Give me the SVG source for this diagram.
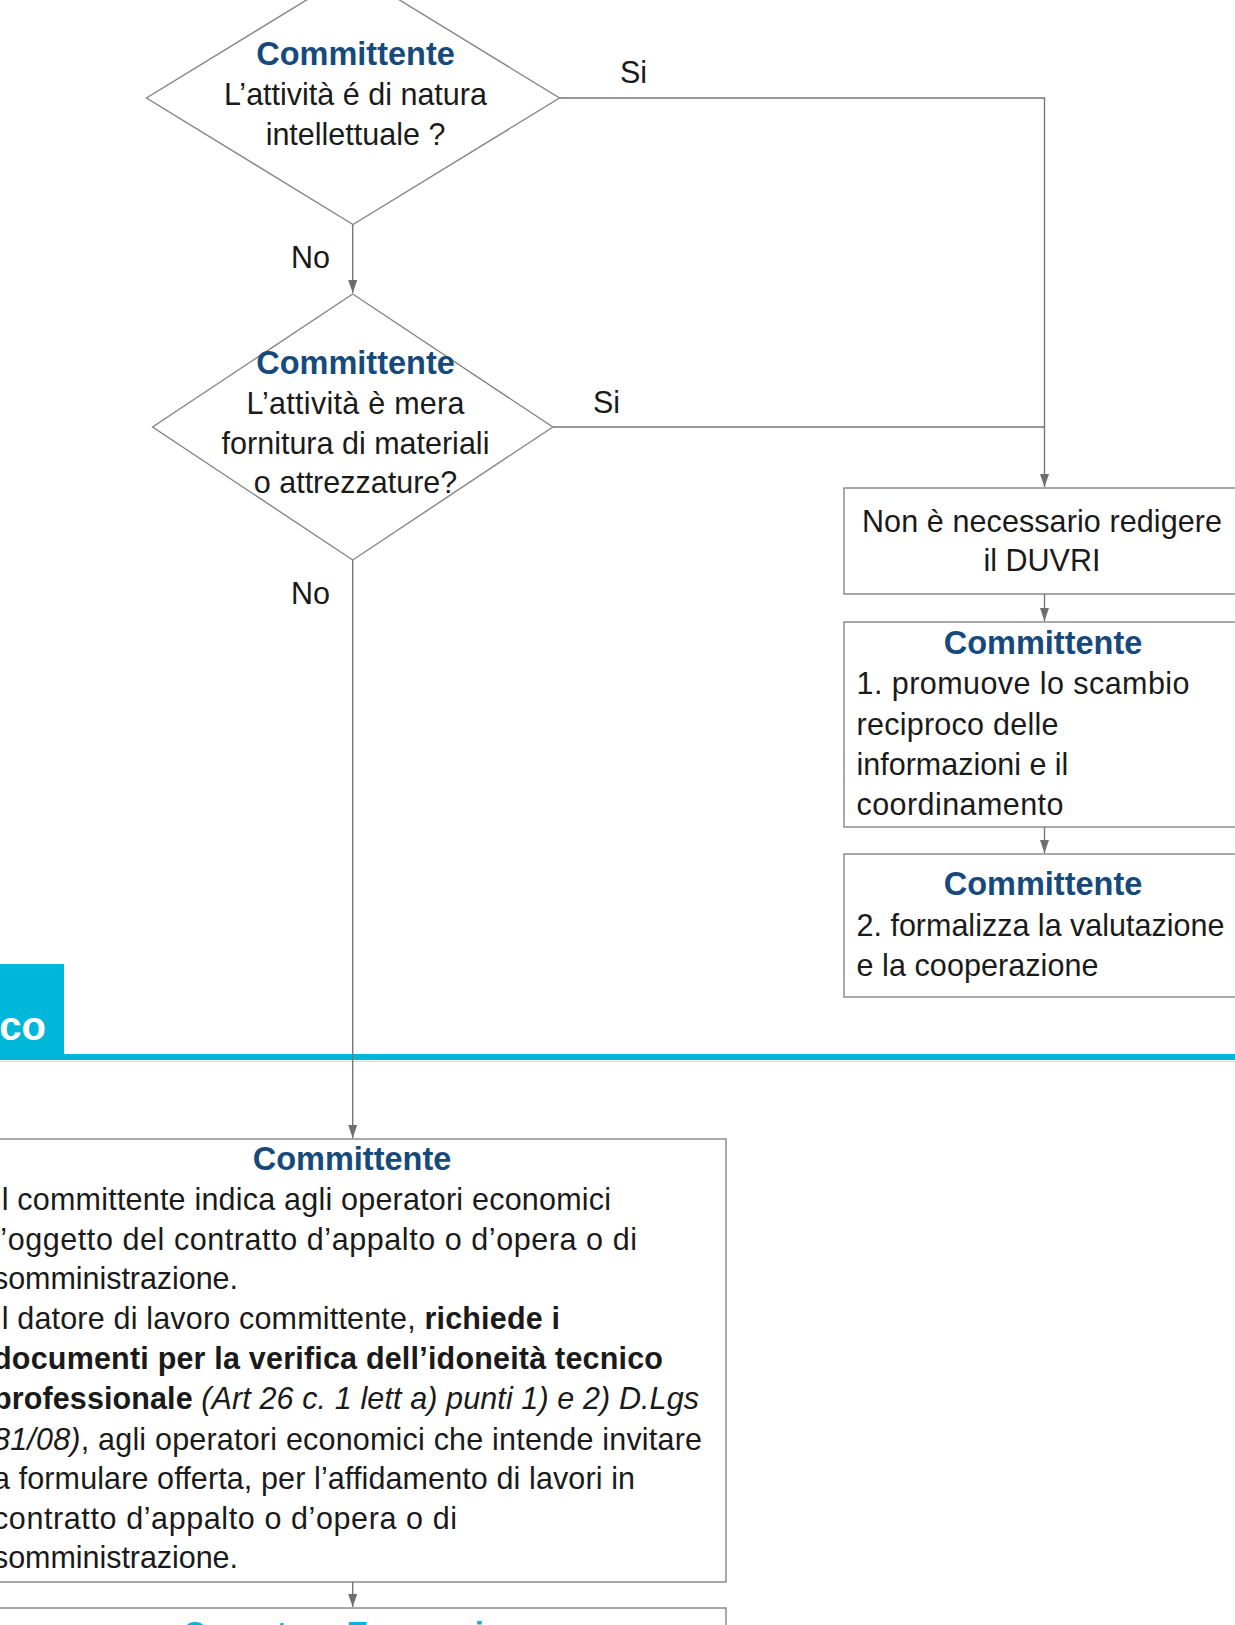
<svg xmlns="http://www.w3.org/2000/svg" width="1235" height="1625" viewBox="0 0 1235 1625">
<defs>
<style>
.t{font-family:"Liberation Sans",Arial,sans-serif;font-size:30.5px;fill:#1a1a1a}
.h{font-family:"Liberation Sans",Arial,sans-serif;font-size:32.5px;font-weight:bold;fill:#174a7c}
.b{font-weight:bold}
.i{font-style:italic}
.shape{fill:#fff;stroke:#858585;stroke-width:1.4}
.con{fill:none;stroke:#777;stroke-width:1.4}
.cy{fill:#00b7da}
</style>
<marker id="arr" viewBox="0 0 13 9" refX="13" refY="4.5" markerWidth="13" markerHeight="9" markerUnits="userSpaceOnUse" orient="auto">
<path d="M0,0 L13,4.5 L0,9 z" fill="#6e6e6e"/>
</marker>
</defs>
<rect width="1235" height="1625" fill="#fff"/>

<g id="band">
<rect class="cy" x="0" y="964" width="64" height="96"/>
<rect class="cy" x="0" y="1054" width="1235" height="6"/>
<line x1="0" y1="1061.5" x2="1235" y2="1061.5" stroke="#dcdcdc" stroke-width="1"/>
<text x="46" y="1040" text-anchor="end" style="font-family:'Liberation Sans',Arial,sans-serif;font-size:40px;font-weight:bold;fill:#fff">co</text>
</g>

<g id="d1">
<polygon class="shape" points="353,-28.5 559.5,98 353,224.5 146.5,98"/>
<text class="h" x="355.5" y="64.5" text-anchor="middle">Committente</text>
<text class="t" x="355.5" y="104.5" text-anchor="middle">L’attività é di natura</text>
<text class="t" x="355.5" y="144.5" text-anchor="middle">intellettuale ?</text>
</g>

<g id="d2">
<polygon class="shape" points="352.7,294 552.8,427 352.7,560 152.6,427"/>
<text class="h" x="355.5" y="373.5" text-anchor="middle">Committente</text>
<text class="t" x="355.5" y="413.5" text-anchor="middle" textLength="218">L’attività è mera</text>
<text class="t" x="355.5" y="453.5" text-anchor="middle">fornitura di materiali</text>
<text class="t" x="355.5" y="493" text-anchor="middle">o attrezzature?</text>
</g>

<g id="b1">
<rect class="shape" x="844" y="488" width="400" height="106"/>
<text class="t" x="1042" y="532" text-anchor="middle" textLength="360">Non è necessario redigere</text>
<text class="t" x="1042" y="571" text-anchor="middle">il DUVRI</text>
</g>

<g id="b2">
<rect class="shape" x="844" y="622" width="400" height="205"/>
<text class="h" x="1043" y="654" text-anchor="middle">Committente</text>
<text class="t" x="856.5" y="694" textLength="333">1. promuove lo scambio</text>
<text class="t" x="856.5" y="734.5" textLength="202">reciproco delle</text>
<text class="t" x="856.5" y="774.5">informazioni e il</text>
<text class="t" x="856.5" y="814.5" textLength="207">coordinamento</text>
</g>

<g id="b3">
<rect class="shape" x="844" y="854" width="400" height="143"/>
<text class="h" x="1043" y="895" text-anchor="middle">Committente</text>
<text class="t" x="856.5" y="935.5">2. formalizza la valutazione</text>
<text class="t" x="856.5" y="975.5" textLength="242">e la cooperazione</text>
</g>

<g id="b4">
<rect class="shape" x="-20" y="1139" width="746" height="443"/>
<text class="h" x="352" y="1170" text-anchor="middle">Committente</text>
<text class="t" x="-7" y="1210" textLength="618">Il committente indica agli operatori economici</text>
<text class="t" x="-7" y="1249.5" textLength="644">l’oggetto del contratto d’appalto o d’opera o di</text>
<text class="t" x="-7" y="1289" textLength="245">somministrazione.</text>
<text class="t" x="-7" y="1329" textLength="567">Il datore di lavoro committente, <tspan class="b">richiede i</tspan></text>
<text class="t b" x="-7" y="1369" textLength="670">documenti per la verifica dell’idoneità tecnico</text>
<text class="t" x="-7" y="1409" textLength="706"><tspan class="b">professionale</tspan><tspan class="i"> (Art 26 c. 1 lett a) punti 1) e 2) D.Lgs</tspan></text>
<text class="t" x="-7" y="1449.5" textLength="709"><tspan class="i">81/08)</tspan>, agli operatori economici che intende invitare</text>
<text class="t" x="-7" y="1488.5" textLength="642">a formulare offerta, per l’affidamento di lavori in</text>
<text class="t" x="-7" y="1528.5" textLength="464">contratto d’appalto o d’opera o di</text>
<text class="t" x="-7" y="1567.5" textLength="245">somministrazione.</text>
</g>

<g id="b5">
<rect class="shape" x="-20" y="1608" width="746" height="60"/>
<text class="h" x="352" y="1645" text-anchor="middle" style="fill:#00b7da">Operatore Economico</text>
</g>

<g id="connectors">
<path class="con" d="M559.5,98 H1044.5 V487" marker-end="url(#arr)"/>
<path class="con" d="M552.8,427 H1044.5"/>
<path class="con" d="M352.7,224.5 V293" marker-end="url(#arr)"/>
<path class="con" d="M352.7,560 V1138" marker-end="url(#arr)"/>
<path class="con" d="M1044.5,594 V621" marker-end="url(#arr)"/>
<path class="con" d="M1044.5,827 V853" marker-end="url(#arr)"/>
<path class="con" d="M352.7,1582 V1607" marker-end="url(#arr)"/>
<text class="t" x="620" y="82.5">Si</text>
<text class="t" x="593" y="413">Si</text>
<text class="t" x="291" y="268">No</text>
<text class="t" x="291" y="604">No</text>
</g>
</svg>
